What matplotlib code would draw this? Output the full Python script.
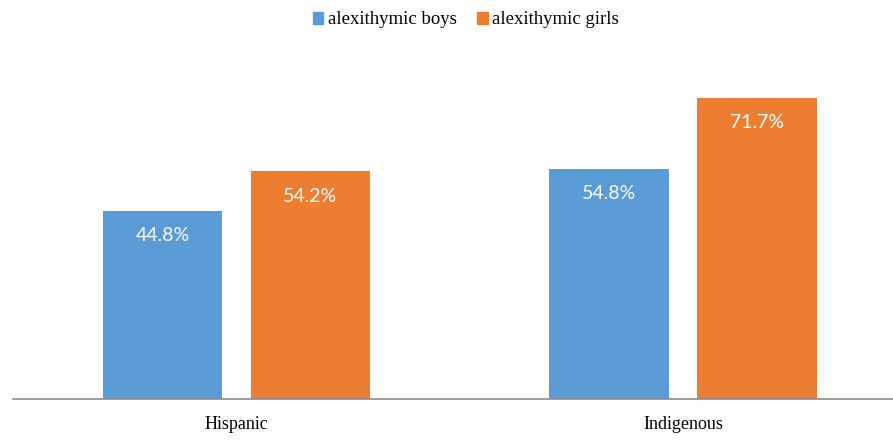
import matplotlib.pyplot as plt
from matplotlib.patches import Patch

groups = ["Hispanic", "Indigenous"]
boys = [44.8, 54.8]
girls = [54.2, 71.7]
series_names = ["alexithymic boys", "alexithymic girls"]

blue = "#5B9BD5"
orange = "#ED7D31"

fig = plt.figure(figsize=(8.93, 4.41), dpi=100)
# plot area runs past the right edge, the way the chart was cropped
ax = fig.add_axes([13 / 893, 41.7 / 441, 880 / 893, 336.4 / 441])

x = range(len(groups))
w = 0.2675
off = 0.1657
b1 = ax.bar([i - off for i in x], boys, w, color=blue)
b2 = ax.bar([i + off for i in x], girls, w, color=orange)

for bars, vals in ((b1, boys), (b2, girls)):
    for bar, v in zip(bars, vals):
        ax.annotate(f"{v}%", (bar.get_x() + bar.get_width() / 2, v),
                    xytext=(0, -18), textcoords="offset points",
                    ha="center", va="center", color="white",
                    fontsize=14, family="Lato")

ax.set_xlim(-0.5, -0.5 + 880 / 446.8)
ax.set_ylim(0, 80)
ax.set_yticks([])
ax.set_xticks(list(x))
ax.set_xticklabels(groups, family="Liberation Serif", fontsize=13)
ax.tick_params(axis="x", length=0, pad=12)
for s in ("top", "right", "left"):
    ax.spines[s].set_visible(False)
ax.spines["bottom"].set_color("#8c8c8c")
ax.spines["bottom"].set_linewidth(1.2)

handles = [Patch(color=blue), Patch(color=orange)]
fig.legend(handles, series_names, loc="center",
           bbox_to_anchor=(466 / 893, 1 - 20 / 441), ncol=2, frameon=False,
           prop={"family": "Liberation Serif", "size": 13.5},
           handlelength=0.55, handleheight=0.55, handletextpad=0.25,
           columnspacing=1.1)

plt.savefig("out.png", dpi=100)
plt.close()
